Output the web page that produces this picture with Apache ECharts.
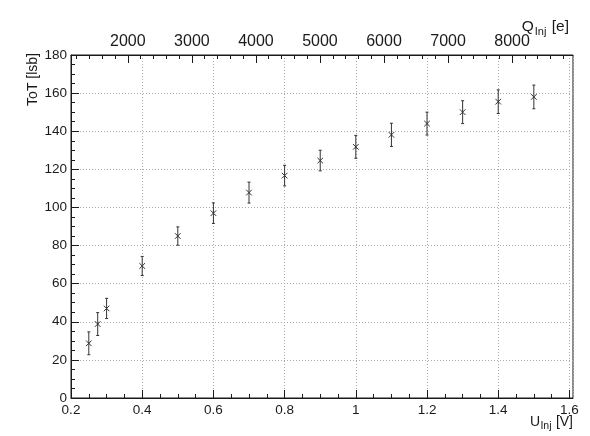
<!DOCTYPE html>
<html>
<head>
<meta charset="utf-8">
<script src="https://cdn.jsdelivr.net/npm/echarts@6/dist/echarts.min.js"></script>
<style>html,body{margin:0;padding:0;background:#fff}#c{width:590px;height:436px}</style>
</head>
<body>
<div id="c"></div>
<script>
// ---- data ----
const uInj   = [0.25, 0.275, 0.3, 0.4, 0.5, 0.6, 0.7, 0.8, 0.9, 1.0, 1.1, 1.2, 1.3, 1.4, 1.5];
const tot    = [28.7, 38.8, 47.0, 69.3, 85.0, 97.0, 107.8, 116.7, 124.6, 131.8, 138.1, 144.0, 150.0, 155.5, 158.0];
const totErr = [6.0, 6.0, 5.3, 5.0, 4.8, 5.4, 5.5, 5.4, 5.4, 6.0, 6.1, 6.0, 6.0, 6.2, 6.2];
const xTickLabels = [0.2, 0.4, 0.6, 0.8, 1.0, 1.2, 1.4, 1.6];
const xMinorTicks = [0.25,0.3,0.35,0.45,0.5,0.55,0.65,0.7,0.75,0.85,0.9,0.95,1.05,1.1,1.15,1.25,1.3,1.35,1.45,1.5,1.55];
const yTickLabels = [0, 20, 40, 60, 80, 100, 120, 140, 160, 180];
const qTickLabels = [2000, 3000, 4000, 5000, 6000, 7000, 8000];
const qMinorTicks = [1200,1400,1600,1800,2200,2400,2600,2800,3200,3400,3600,3800,4200,4400,4600,4800,5200,5400,5600,5800,6200,6400,6600,6800,7200,7400,7600,7800,8200,8400,8600,8800];
const electronsPerVolt = 5560;
const uMin = 0.2, uMax = 1.61;

const FONT = "'Liberation Sans', Arial, Helvetica, sans-serif";
const INK = '#1a1a1a';

const data = uInj.map((u, i) => [u, tot[i], totErr[i]]);

const chart = echarts.init(document.getElementById('c'), null, {renderer: 'canvas'});

const option = {
  backgroundColor: '#fff',
  animation: false,
  grid: {left: 71, right: 17, top: 55, bottom: 38, show: true, borderColor: INK, borderWidth: 1, backgroundColor: 'transparent'},
  xAxis: [
    { // main U axis
      type: 'value', position: 'bottom', min: uMin, max: uMax, interval: 0.2,
      axisLine: {show: true, lineStyle: {color: INK, width: 1}},
      axisTick: {show: true, inside: true, length: 8, lineStyle: {color: INK}},
      axisLabel: {show: true, margin: 5, fontFamily: FONT, fontSize: 13.5, color: INK, showMaxLabel: false,
        formatter: v => xTickLabels.some(t => Math.abs(t - v) < 1e-6) ? String(+v.toFixed(1)) : ''},
      splitLine: {show: true, lineStyle: {color: '#aaa', type: [1, 2], width: 1}}
    },
    { // top Q axis (labels + major ticks)
      type: 'value', position: 'top', min: uMin * electronsPerVolt, max: uMax * electronsPerVolt,
      axisLine: {show: true, lineStyle: {color: INK, width: 1}},
      axisTick: {show: true, inside: true, length: 8, customValues: qTickLabels, lineStyle: {color: INK}},
      axisLabel: {show: true, margin: 5, fontFamily: FONT, fontSize: 16, color: INK, customValues: qTickLabels,
        formatter: v => String(Math.round(v))},
      splitLine: {show: false}
    },
    { // bottom minor ticks
      type: 'value', position: 'bottom', min: uMin, max: uMax,
      axisLine: {show: false},
      axisTick: {show: true, inside: true, length: 4, customValues: xMinorTicks, lineStyle: {color: INK}},
      axisLabel: {show: false},
      splitLine: {show: false}
    },
    { // top minor ticks
      type: 'value', position: 'top', min: uMin * electronsPerVolt, max: uMax * electronsPerVolt,
      axisLine: {show: false},
      axisTick: {show: true, inside: true, length: 4, customValues: qMinorTicks, lineStyle: {color: INK}},
      axisLabel: {show: false},
      splitLine: {show: false}
    }
  ],
  yAxis: {
    type: 'value', min: 0, max: 180, interval: 20,
    axisLine: {show: true, lineStyle: {color: INK, width: 1}},
    axisTick: {show: true, inside: true, length: 8, lineStyle: {color: INK}},
    minorTick: {show: true, splitNumber: 4, length: 4, lineStyle: {color: INK}},
    axisLabel: {show: true, margin: 4, fontFamily: FONT, fontSize: 13.5, color: INK,
      formatter: v => yTickLabels.includes(v) ? String(v) : ''},
    splitLine: {show: true, lineStyle: {color: '#aaa', type: [1, 2], width: 1}}
  },
  series: [{
    type: 'custom',
    xAxisIndex: 0, yAxisIndex: 0,
    data: data,
    clip: false,
    renderItem: function (params, api) {
      const x = api.value(0), y = api.value(1), e = api.value(2);
      const c = api.coord([x, y]);
      const t = api.coord([x, y + e]);
      const b = api.coord([x, y - e]);
      const s = 2.8, cap = 1.5;
      const st = {stroke: '#333', lineWidth: 1, fill: null};
      return {
        type: 'group',
        children: [
          {type: 'line', shape: {x1: c[0], y1: t[1], x2: c[0], y2: b[1]}, style: st},
          {type: 'line', shape: {x1: c[0] - cap, y1: t[1], x2: c[0] + cap, y2: t[1]}, style: st},
          {type: 'line', shape: {x1: c[0] - cap, y1: b[1], x2: c[0] + cap, y2: b[1]}, style: st},
          {type: 'line', shape: {x1: c[0] - s, y1: c[1] - s, x2: c[0] + s, y2: c[1] + s}, style: st},
          {type: 'line', shape: {x1: c[0] - s, y1: c[1] + s, x2: c[0] + s, y2: c[1] - s}, style: st}
        ]
      };
    }
  }],
  graphic: [
    {type: 'text', x: 33, y: 53, rotation: Math.PI / 2,
      style: {text: 'ToT [lsb]', fontFamily: FONT, fontSize: 14, fill: INK, align: 'right', verticalAlign: 'middle'}},
    {type: 'group', right: 17, top: 415, children: [
      {type: 'text', x: 0, y: 0, style: {text: 'U', fontFamily: FONT, fontSize: 14, fill: INK, align: 'left', verticalAlign: 'top'}},
      {type: 'text', x: 10.5, y: 6, style: {text: 'Inj', fontFamily: FONT, fontSize: 10.5, fill: INK, align: 'left', verticalAlign: 'top'}},
      {type: 'text', x: 26, y: 0, style: {text: '[V]', fontFamily: FONT, fontSize: 14, fill: INK, align: 'left', verticalAlign: 'top'}}
    ]},
    {type: 'group', right: 21, top: 19, children: [
      {type: 'text', x: 0, y: 0, style: {text: 'Q', fontFamily: FONT, fontSize: 15.5, fill: INK, align: 'left', verticalAlign: 'top'}},
      {type: 'text', x: 13, y: 7.5, style: {text: 'Inj', fontFamily: FONT, fontSize: 11, fill: INK, align: 'left', verticalAlign: 'top'}},
      {type: 'text', x: 30, y: 0, style: {text: '[e]', fontFamily: FONT, fontSize: 15.5, fill: INK, align: 'left', verticalAlign: 'top'}}
    ]}
  ]
};
chart.setOption(option);
</script>
</body>
</html>
